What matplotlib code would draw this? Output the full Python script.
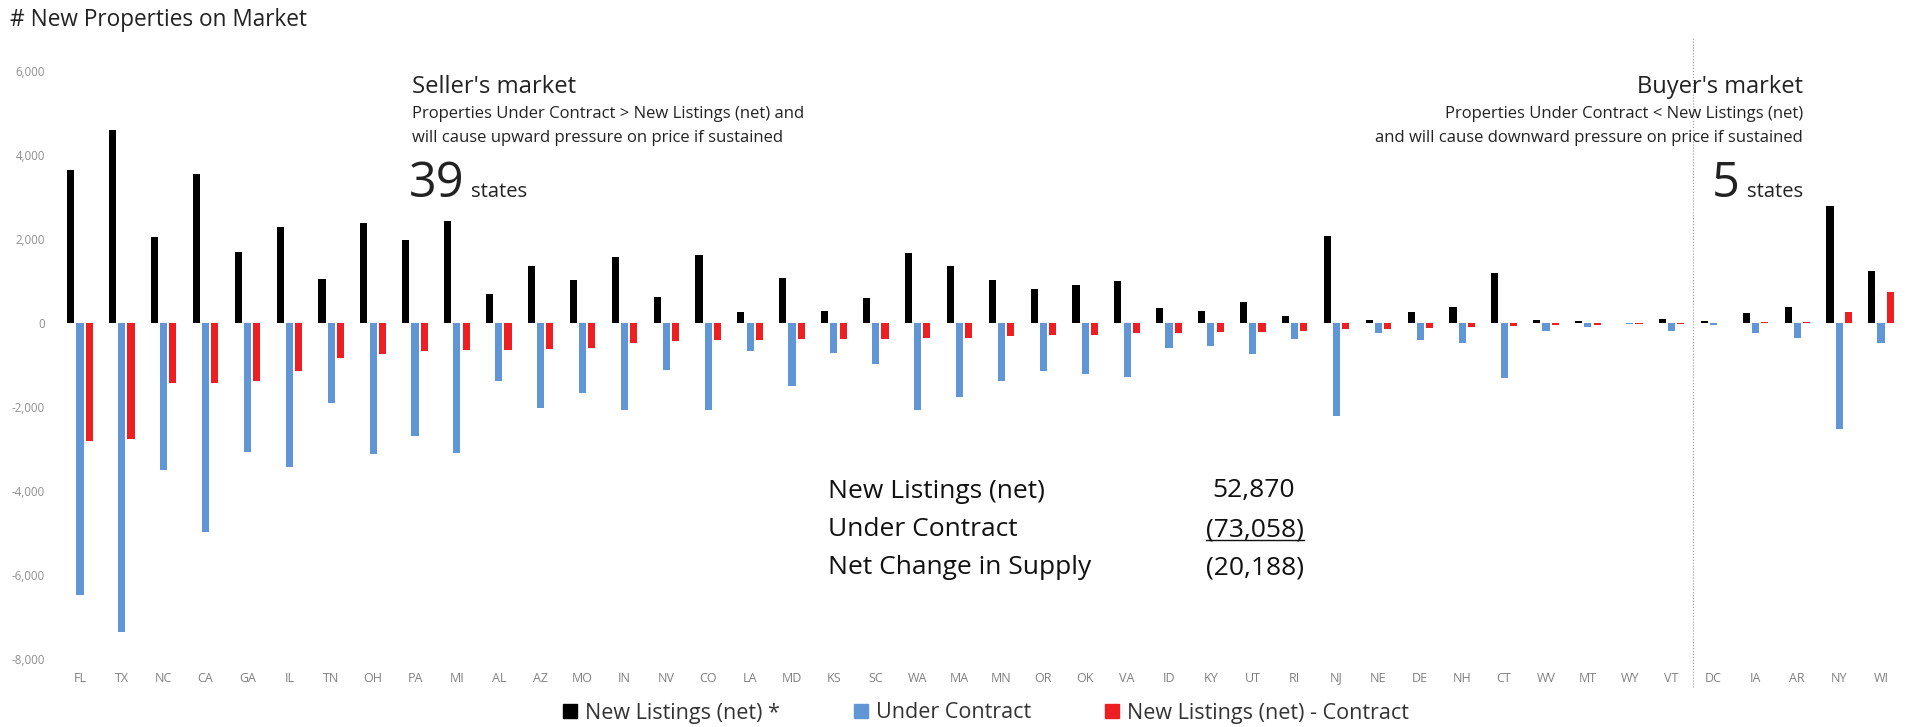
import numpy as np
import matplotlib
matplotlib.use("Agg")
import matplotlib.pyplot as plt
from matplotlib.lines import Line2D
from matplotlib.ticker import FuncFormatter

plt.rcParams['font.family'] = ['Open Sans', 'DejaVu Sans']

states = ["FL", "TX", "NC", "CA", "GA", "IL", "TN", "OH", "PA", "MI", "AL", "AZ", "MO", "IN", "NV",
          "CO", "LA", "MD", "KS", "SC", "WA", "MA", "MN", "OR", "OK", "VA", "ID", "KY", "UT", "RI",
          "NJ", "NE", "DE", "NH", "CT", "WV", "MT", "WY", "VT", "DC", "IA", "AR", "NY", "WI"]

new_listings = [3640, 4590, 2040, 3540, 1680, 2290, 1050, 2370, 1980, 2430, 690, 1360, 1020, 1580, 630,
                1620, 250, 1070, 290, 590, 1660, 1350, 1020, 810, 900, 1000, 350, 290, 500, 170,
                2070, 70, 250, 370, 1180, 70, 50, 10, 100, 40, 245, 370, 2790, 1230]

under_contract = [-6480, -7350, -3490, -4970, -3070, -3430, -1910, -3130, -2690, -3090, -1370, -2030, -1660, -2070, -1120,
                  -2070, -660, -1500, -710, -980, -2070, -1770, -1370, -1140, -1210, -1290, -590, -550, -750, -390,
                  -2220, -245, -400, -480, -1300, -180, -90, -20, -180, -40, -245, -360, -2520, -475]

net_change = [-2820, -2760, -1430, -1430, -1390, -1140, -830, -750, -665, -640, -640, -625, -590, -475, -435,
              -400, -400, -380, -380, -370, -365, -355, -310, -285, -280, -250, -230, -225, -220, -180,
              -150, -135, -110, -105, -70, -55, -40, -25, -20, 10, 20, 20, 270, 745]

summary_labels = ["New Listings (net)", "Under Contract", "Net Change in Supply"]
summary_values = ["52,870", "(73,058)", "(20,188)"]

black = "#000000"
blue = "#6196D6"
red = "#EE1F23"

W, H = 1925, 727
fig = plt.figure(figsize=(W / 100, H / 100), dpi=100)
ax = fig.add_axes([59 / W, 1 - 659 / H, 1843 / W, 588 / H])

x = np.arange(len(states))
bw = 0.17
ax.bar(x - 0.22, new_listings, bw, color=black)
ax.bar(x, under_contract, bw, color=blue)
ax.bar(x + 0.22, net_change, bw, color=red)

ax.set_xlim(-0.5, len(states) - 0.5)
ax.set_ylim(-8000, 6000)
ax.set_yticks(np.arange(-8000, 6001, 2000))
ax.yaxis.set_major_formatter(FuncFormatter(lambda v, p: f"{int(v):,}"))
ax.set_xticks(x)
ax.set_xticklabels(states)
ax.tick_params(axis='y', length=0, pad=10, labelsize=8.3, labelcolor="#8f8f8f")
ax.tick_params(axis='x', length=0, pad=9, labelsize=9, labelcolor="#808080")
for s in ax.spines.values():
    s.set_visible(False)

# divider between seller's and buyer's market
ax.axvline(38.5, ymin=-0.048, ymax=1.058, color="#9a9a9a", lw=0.8, ls=":", clip_on=False)

def fx(px):
    return px / W

def fy(py):
    return 1 - py / H

tc = "#222222"
fig.text(fx(10), fy(20), "# New Properties on Market", fontsize=16.3, color="#222222", va="center")

fig.text(fx(412), fy(87), "Seller's market", fontsize=17.2, color=tc, va="center")
fig.text(fx(412), fy(114), "Properties Under Contract > New Listings (net) and", fontsize=12, color=tc, va="center")
fig.text(fx(412), fy(138), "will cause upward pressure on price if sustained", fontsize=12, color=tc, va="center")
fig.text(fx(409), fy(197), "39", fontsize=35, color=tc, va="baseline")
fig.text(fx(471), fy(197), "states", fontsize=14.5, color=tc, va="baseline")

fig.text(fx(1803), fy(87), "Buyer's market", fontsize=17, color=tc, va="center", ha="right")
fig.text(fx(1803), fy(114), "Properties Under Contract < New Listings (net)", fontsize=12, color=tc, va="center", ha="right")
fig.text(fx(1803), fy(138), "and will cause downward pressure on price if sustained", fontsize=12, color=tc, va="center", ha="right")
fig.text(fx(1803), fy(197), "states", fontsize=14.5, color=tc, va="baseline", ha="right")
fig.text(fx(1740), fy(197), "5", fontsize=35, color=tc, va="baseline", ha="right")

rows_y = [491, 530, 568]
value_right = [1295, 1304, 1304]
value_texts = []
for lab, val, yy, xr in zip(summary_labels, summary_values, rows_y, value_right):
    fig.text(fx(828), fy(yy), lab, fontsize=19, color="#111111", va="center")
    value_texts.append(fig.text(fx(xr), fy(yy), val, fontsize=19, color="#111111", va="center", ha="right"))

handles = [Line2D([], [], marker="s", ls="", color=c, markersize=9.5) for c in (black, blue, red)]
fig.legend(handles, ["New Listings (net) *", "Under Contract", "New Listings (net) - Contract"],
           loc="center", bbox_to_anchor=(0.512, fy(713)), ncol=3, frameon=False, fontsize=15.5,
           handlelength=0.7, handletextpad=0.35, columnspacing=3.4, labelcolor="#333333")

# underline the contract total
fig.canvas.draw()
bb = value_texts[1].get_window_extent().transformed(fig.transFigure.inverted())
fig.add_artist(Line2D([bb.x0, bb.x1], [bb.y0 + 0.003, bb.y0 + 0.003], color="#111111", lw=1.0,
                      transform=fig.transFigure))

fig.savefig("out.png", dpi=100)
